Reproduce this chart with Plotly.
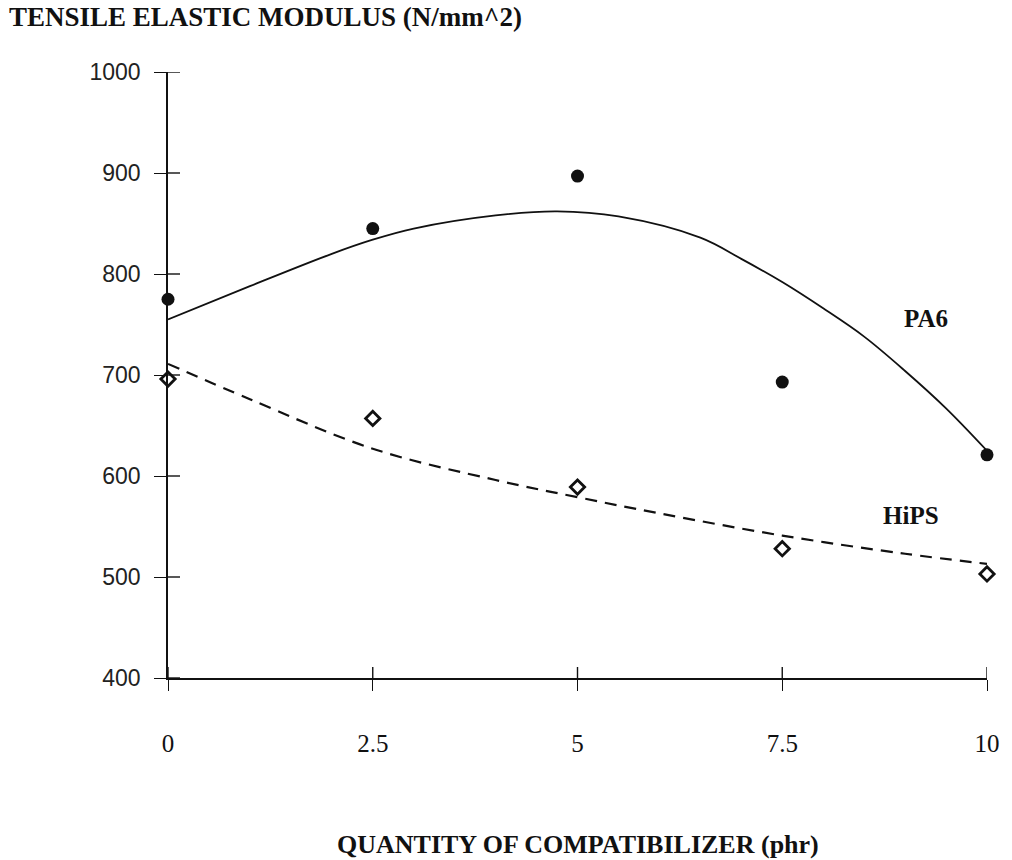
import plotly.graph_objects as go

# Measured points
x_pts = [0, 2.5, 5, 7.5, 10]
pa6_pts = [775, 845, 897, 693, 621]
hips_pts = [696, 657, 589, 528, 503]

# Smoothed trend curves
pa6_fit_x = [0, 1, 2, 2.5, 3, 4, 4.75, 5.5, 6.5, 7, 7.5, 8, 8.5, 9, 9.5, 10]
pa6_fit_y = [755, 788, 820, 834, 845, 858, 862, 857, 836, 815, 792, 766, 738, 704, 667, 625]
hips_fit_x = [0, 1, 2.5, 4, 5, 6, 7.5, 9, 10]
hips_fit_y = [711, 676, 627, 596, 579, 563, 541, 523, 513]

x_ticks = [0, 2.5, 5, 7.5, 10]
x_tick_text = ["0", "2.5", "5", "7.5", "10"]
y_ticks = [400, 500, 600, 700, 800, 900, 1000]

SERIF = "Liberation Serif"
INK = "#111111"
X_TICK_LEN = 11
Y_TICK_LEN = 12

W, H = 1012, 860
M = dict(l=168, r=22, t=72, b=182)
Y_RANGE = [400, 1000]
X_RANGE = [0, 10]
plot_h = H - M["t"] - M["b"]
units_per_px_y = (Y_RANGE[1] - Y_RANGE[0]) / plot_h

fig = go.Figure()

fig.add_trace(go.Scatter(
    x=pa6_fit_x, y=pa6_fit_y, mode="lines",
    line=dict(color=INK, width=1.8, shape="spline", smoothing=1),
    cliponaxis=False, showlegend=False, hoverinfo="skip"))
fig.add_trace(go.Scatter(
    x=hips_fit_x, y=hips_fit_y, mode="lines",
    line=dict(color=INK, width=2.2, dash="12px,8px", shape="spline", smoothing=1),
    cliponaxis=False, showlegend=False, hoverinfo="skip"))
fig.add_trace(go.Scatter(
    x=x_pts, y=pa6_pts, mode="markers", name="PA6",
    marker=dict(symbol="circle", size=13, color=INK),
    cliponaxis=False, showlegend=False))
fig.add_trace(go.Scatter(
    x=x_pts, y=hips_pts, mode="markers", name="HiPS",
    marker=dict(symbol="diamond-open", size=11, color=INK, line=dict(width=2.8, color=INK)),
    cliponaxis=False, showlegend=False))

# inner halves of the crossing tick marks (outer halves come from the axes)
tick_shapes = []
for yv in y_ticks:
    tick_shapes.append(dict(type="line", xref="x", yref="y", xsizemode="pixel",
                            xanchor=X_RANGE[0], x0=0, x1=Y_TICK_LEN, y0=yv, y1=yv,
                            line=dict(color=INK, width=1.4), layer="above"))
for xv in x_ticks:
    tick_shapes.append(dict(type="line", xref="x", yref="y",
                            x0=xv, x1=xv, y0=Y_RANGE[0],
                            y1=Y_RANGE[0] + X_TICK_LEN * units_per_px_y,
                            line=dict(color=INK, width=1.4), layer="above"))

common_x = dict(range=X_RANGE, tickvals=x_ticks, showgrid=False, zeroline=False,
                showline=True, linecolor=INK, linewidth=1.6,
                tickcolor=INK, tickwidth=1.4, ticklen=X_TICK_LEN)
common_y = dict(range=Y_RANGE, tickvals=y_ticks, showgrid=False, zeroline=False,
                showline=True, linecolor=INK, linewidth=1.6,
                tickcolor=INK, tickwidth=1.4, ticklen=Y_TICK_LEN)

fig.update_layout(
    width=W, height=H,
    margin=M,
    paper_bgcolor="white", plot_bgcolor="white",
    xaxis=dict(**common_x, ticks="outside", ticktext=x_tick_text,
               tickfont=dict(family=SERIF, size=25, color=INK),
               ticklabelstandoff=31),
    yaxis=dict(**common_y, ticks="outside",
               tickfont=dict(family="Liberation Sans", size=23, color="#222222"),
               ticklabelstandoff=9),
    shapes=tick_shapes,
    annotations=[
        dict(text="<b>TENSILE ELASTIC MODULUS (N/mm^2)</b>", xref="paper", yref="paper",
             x=-0.196, y=1.091, xanchor="left", yanchor="middle", showarrow=False,
             font=dict(family=SERIF, size=27, color=INK)),
        dict(text="<b>QUANTITY OF COMPATIBILIZER (phr)</b>", xref="paper", yref="paper",
             x=0.5, y=-0.274, xanchor="center", yanchor="middle", showarrow=False,
             font=dict(family=SERIF, size=26, color=INK)),
        dict(text="<b>PA6</b>", x=9.25, y=756, xref="x", yref="y", showarrow=False,
             font=dict(family=SERIF, size=25, color=INK)),
        dict(text="<b>HiPS</b>", x=9.07, y=561, xref="x", yref="y", showarrow=False,
             font=dict(family=SERIF, size=25, color=INK)),
    ],
)

fig.write_html("out.html")
